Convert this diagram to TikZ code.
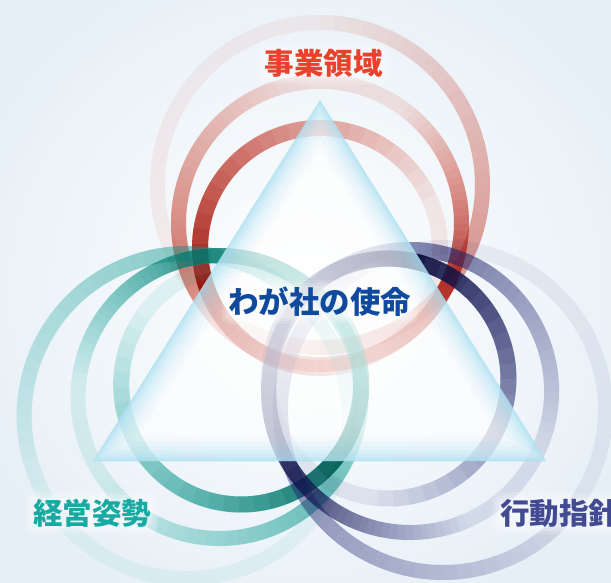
\documentclass[tikz,border=0pt]{standalone}
\usepackage{fontspec}
\newfontfamily\jp{Noto Sans CJK JP}
\definecolor{rred}{RGB}{208,60,38}
\definecolor{rteal}{RGB}{16,172,162}
\definecolor{rnavy}{RGB}{46,54,130}
\definecolor{tri}{RGB}{140,214,240}
\definecolor{bgc}{RGB}{230,239,246}
\definecolor{tred}{RGB}{232,66,44}
\definecolor{tteal}{RGB}{22,170,162}
\definecolor{tnavy}{RGB}{66,74,146}
\definecolor{tblue}{RGB}{16,74,158}
\def\NL{24}
% #1 r, #2 width, #3 color, #4 cy, #5 peak angle, #6 W1, #7 W2, #8 c0, #9 c1
\newcommand\ringbump[9]{%
  \foreach \k in {1,...,\NL}{%
    \pgfmathsetmacro\rbf{1-(\k-1)/\NL}%
    \pgfmathsetmacro\rbcp{#8+(#9-#8)*(\k-1)/\NL}%
    \pgfmathsetmacro\rbcc{#8+(#9-#8)*\k/\NL}%
    \pgfmathsetmacro\rbal{1-(1-\rbcc)/(1-\rbcp)}%
    \pgfmathsetmacro\rbsa{#5-#6*\rbf}%
    \pgfmathsetmacro\rbea{#5+#7*\rbf}%
    \draw[line width=#2, draw=#3, draw opacity=\rbal]
      (0,#4) ++(\rbsa:#1) arc[start angle=\rbsa, end angle=\rbea, radius=#1];
  }}
\newcommand\ringbase[5]{%
  \draw[line width=#2, draw=#3, draw opacity=#5] (0,#4) circle[radius=#1];}
\newcommand\ringgroup[3]{%
 \begin{scope}[shift={(320,243)}, rotate=#1-90]
  \begin{scope}[blend group=multiply]
   \ringbase{162.5}{15pt}{#3}{#2+63}{0.07}
   \ringbump{162.5}{15pt}{#3}{#2+63}{330}{90}{120}{0.07}{0.46}
  \end{scope}
  \begin{scope}[blend group=multiply]
   \ringbase{141.5}{15pt}{#3}{#2+25}{0.13}
   \ringbump{141.5}{15pt}{#3}{#2+25}{338}{110}{75}{0.13}{0.82}
   \ringbump{141.5}{15pt}{#3}{#2+25}{195}{100}{70}{0}{0.5}
  \end{scope}
  \begin{scope}[blend group=multiply]
   \ringbase{120}{16pt}{#3}{#2}{0.1}
   \ringbump{120}{16pt}{#3}{#2}{200}{175}{95}{0.1}{0.93}
  \end{scope}
 \end{scope}}
\newcommand\blob[4]{%
  \foreach \e/\o in {8/0.16,5/0.2,2/0.26}
    \fill[white, fill opacity=\o, rounded corners=8pt] (#1-#3-\e,#2-#4-\e) rectangle (#1+#3+\e,#2+#4+\e);}
\tikzset{
  lbl/.style={inner sep=0pt, font=\jp\bfseries\fontsize{29.5}{31}\selectfont}
}
\begin{document}
\begin{tikzpicture}[x=1pt,y=1pt]
\useasboundingbox (0,0) rectangle (611,582);
\clip (0,0) rectangle (611,582);
\shade[inner color=white, outer color=bgc] (-60,-60) rectangle (671,642);
% rings
\ringgroup{90}{91}{rred}
\ringgroup{210}{91}{rteal}
\ringgroup{330}{79}{rnavy}
% triangle
\coordinate (TA) at (320,482);
\coordinate (TB) at (93,121);
\coordinate (TC) at (546,121);
\fill[white, fill opacity=0.66] (TA)--(TB)--(TC)--cycle;
\begin{scope}
  \clip (TA)--(TB)--(TC)--cycle;
  \foreach \w/\o in {50/0.06,40/0.07,30/0.08,22/0.1,15/0.12,8/0.16,3/0.22}
    \draw[line width=\w pt, draw=tri, draw opacity=\o, line join=miter] (TA)--(TB)--(TC)--cycle;
\end{scope}
% label halos
\blob{323.5}{518.5}{58}{13}
\blob{92.5}{69}{58}{13}
\blob{560}{69}{60}{13}
\blob{319.5}{280}{90}{14}
% labels
\node[lbl, text=tred] (jigyo) at (323.5,518.5) {事業領域};
\node[lbl, text=tteal] (keiei) at (92.5,69) {経営姿勢};
\node[lbl, text=tnavy, anchor=west] (kodo) at (500,69) {行動指針};
\node[lbl, text=tblue, font=\jp\bfseries\fontsize{30.5}{32}\selectfont] (shimei) at (319.5,280) {わが社の使命};
\end{tikzpicture}
\end{document}
